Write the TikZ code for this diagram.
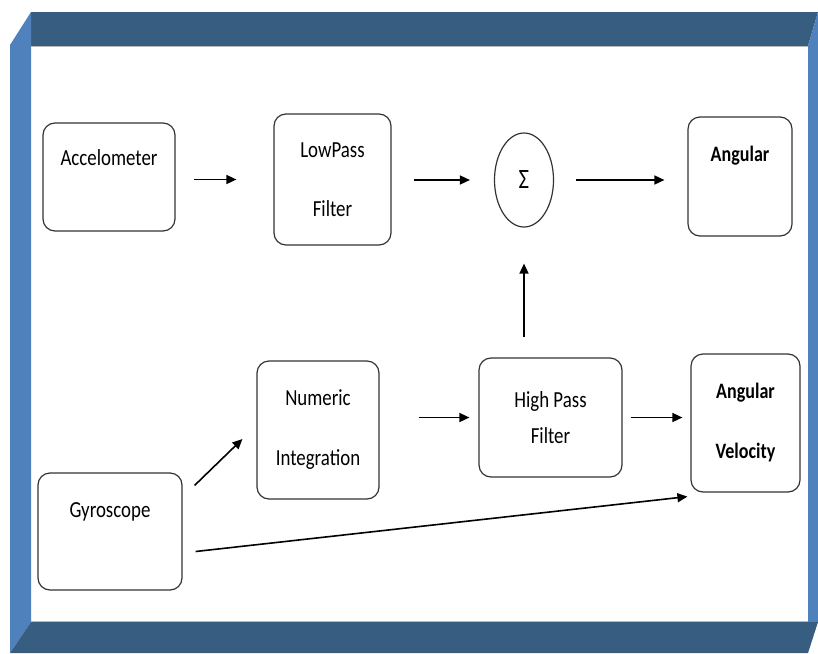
\documentclass[tikz,border=0pt]{standalone}
\usepackage{fontspec}
\setmainfont{Carlito}[FakeStretch=0.82]
\usetikzlibrary{arrows.meta, shapes.geometric, calc}
\definecolor{cband}{HTML}{375D80}
\definecolor{cside}{HTML}{4F81BD}
\definecolor{cline}{HTML}{333333}
\tikzset{
  every picture/.style={font=\fontsize{23}{36}\selectfont, line width=1.2pt},
  box/.style={draw=cline, rounded corners=12pt, align=center, inner sep=0pt},
  outbox/.style={box, font=\fontsize{22}{36}\selectfont\bfseries},
  sumnode/.style={draw=cline, ellipse, minimum width=59pt, minimum height=94pt, inner sep=0pt, font=\fontsize{28}{30}\selectfont},
  arrow/.style={-{Triangle[length=10pt, width=9pt]}, line width=1.6pt},
  seam/.style={draw=gray!55, line width=1pt},
}

\begin{document}
\begin{tikzpicture}[x=1pt, y=-1pt]
  \useasboundingbox (0,0) rectangle (818,653);
  % frame
  \fill[cband] (31,12) -- (818,12) -- (808,46) -- (31,46) -- cycle;
  \fill[cside] (10,45) -- (31,12) -- (31,622) -- (10,653) -- cycle;
  \fill[cside] (808,46) -- (818,12) -- (818,622) -- (808,622) -- cycle;
  \fill[cband] (31,622) -- (818,622) -- (808,653) -- (10,653) -- cycle;
  \draw[seam] (31,46.5) -- (808,46.5);
  \draw[seam] (31,621.5) -- (808,621.5);
  % blocks
  \node[box, minimum width=132pt, minimum height=108pt, text height=15pt, text depth=39pt] (acc) at (109,177) {Accelometer};
  \node[box, minimum width=117pt, minimum height=131pt] (lpf) at (332.5,179.5) {LowPass\\[23pt]Filter};
  \node[sumnode] (sum) at (524,180) {Σ};
  \node[outbox, minimum width=104pt, minimum height=119pt, text height=15pt, text depth=46pt] (ang) at (740,176.5) {Angular};
  \node[box, minimum width=122pt, minimum height=138pt] (ni) at (318,430) {Numeric\\[24pt]Integration};
  \node[box, minimum width=143pt, minimum height=119pt] (hpf) at (550.5,417.5) {High Pass\\Filter};
  \node[outbox, minimum width=109pt, minimum height=138pt] (av) at (745.5,423) {Angular\\[24pt]Velocity};
  \node[box, minimum width=144pt, minimum height=117pt, text height=15pt, text depth=44pt] (gyro) at (110,531.5) {Gyroscope};
  % signal flow
  \draw[arrow, shorten <=18pt, shorten >=37pt] (acc.east |- lpf) -- (lpf.west);
  \draw[arrow, shorten <=22pt, shorten >=24pt] (sum.west -| lpf.east) -- (sum.west);
  \draw[arrow, shorten <=22pt, shorten >=23pt] (sum.east) -- (sum.east -| ang.west);
  \draw[arrow, shorten <=20pt, shorten >=36pt] (sum.south |- hpf.north) -- (sum.south);
  \draw[arrow, shorten <=39pt, shorten >=9pt] (ni.east |- hpf) -- (hpf.west);
  \draw[arrow, shorten <=8pt, shorten >=8pt] (hpf.east) -- (hpf.east -| av.west);
  \draw[arrow] ($(gyro.north east)+(12,13)$) -- ($(ni.west)+(-14,9)$);
  \draw[arrow] ($(gyro.east)+(13,20)$) -- ($(av.south west)+(-3,4)$);
\end{tikzpicture}
\end{document}
